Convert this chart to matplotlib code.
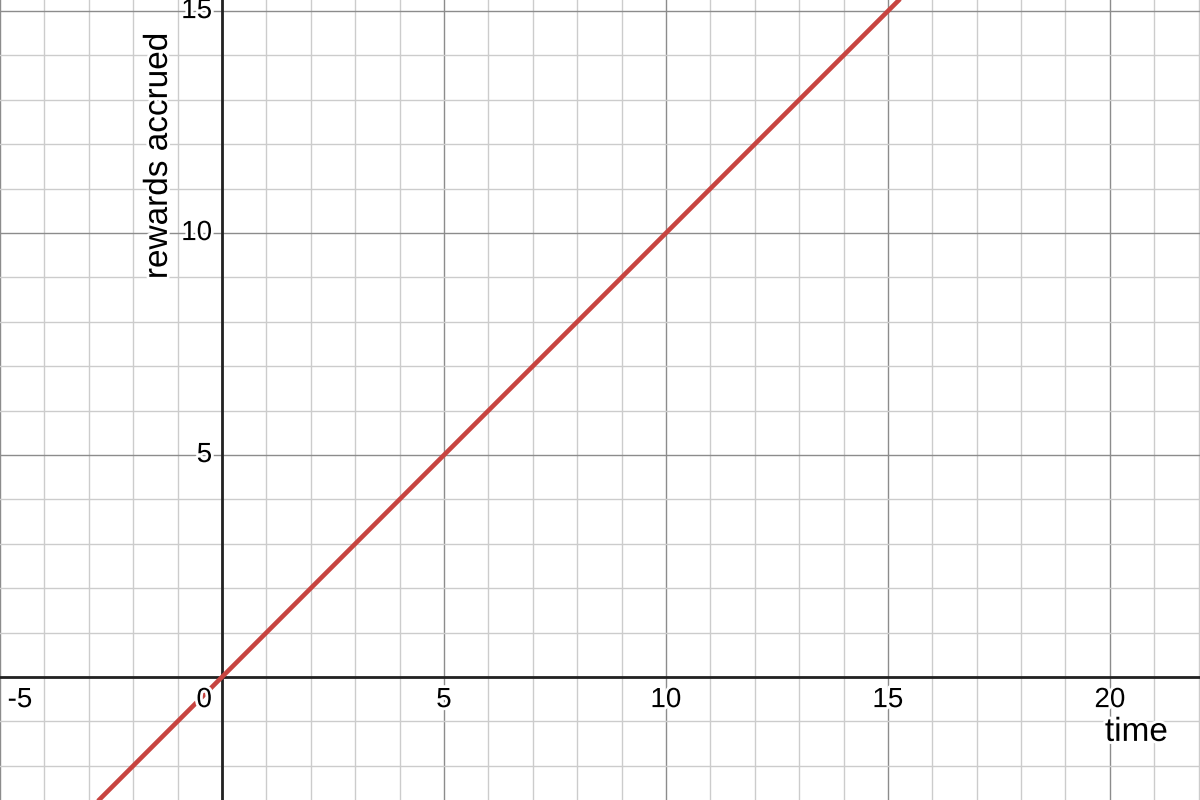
import matplotlib.pyplot as plt
import matplotlib.patheffects as pe
from matplotlib.ticker import MultipleLocator

plt.rcParams['font.family'] = ['Liberation Sans', 'DejaVu Sans']

# rewards accrued vs time: straight line through the origin, slope 1
time = [-5, 0, 5, 10, 15, 22]
rewards = [-5, 0, 5, 10, 15, 22]

x_ticks = [-5, 0, 5, 10, 15, 20]
y_ticks = [5, 10, 15]

fig = plt.figure(figsize=(12, 8), dpi=100)
ax = fig.add_axes([0, 0, 1, 1])
ax.set_xlim(-5.0, 22.03)
ax.set_ylim(-2.77, 15.25)

ax.xaxis.set_major_locator(MultipleLocator(5))
ax.yaxis.set_major_locator(MultipleLocator(5))
ax.xaxis.set_minor_locator(MultipleLocator(1))
ax.yaxis.set_minor_locator(MultipleLocator(1))
ax.grid(which='minor', color='#cccccc', lw=1.0, zorder=0)
ax.grid(which='major', color='#8c8c8c', lw=1.0, zorder=0)
ax.tick_params(which='both', length=0, labelbottom=False, labelleft=False)
for s in ax.spines.values():
    s.set_visible(False)

ax.axhline(0, color='#222222', lw=2.0, zorder=2)
ax.axvline(0, color='#222222', lw=2.0, zorder=2)

ax.plot(time, rewards, color='#c74440', lw=3.3, zorder=3, solid_capstyle='butt')

halo = [pe.withStroke(linewidth=4, foreground='white')]
for t in x_ticks:
    xx = t - 0.4 if t == 0 else t
    if t == -5:
        xx = -4.55
    ax.text(xx, -0.52, str(t), ha='center', va='center', fontsize=20,
            path_effects=halo, zorder=4)
for v in y_ticks:
    ax.text(-0.22, v, str(v), ha='right', va='center', fontsize=20,
            path_effects=halo, zorder=4)

ax.text(0.947, 0.0845, 'time', transform=ax.transAxes, ha='center', va='center',
        fontsize=24, path_effects=halo, zorder=4)
ax.text(0.132, 0.805, 'rewards accrued', transform=ax.transAxes, rotation=90,
        ha='center', va='center', fontsize=24, path_effects=halo, zorder=4)

fig.savefig('out.png', dpi=100)
